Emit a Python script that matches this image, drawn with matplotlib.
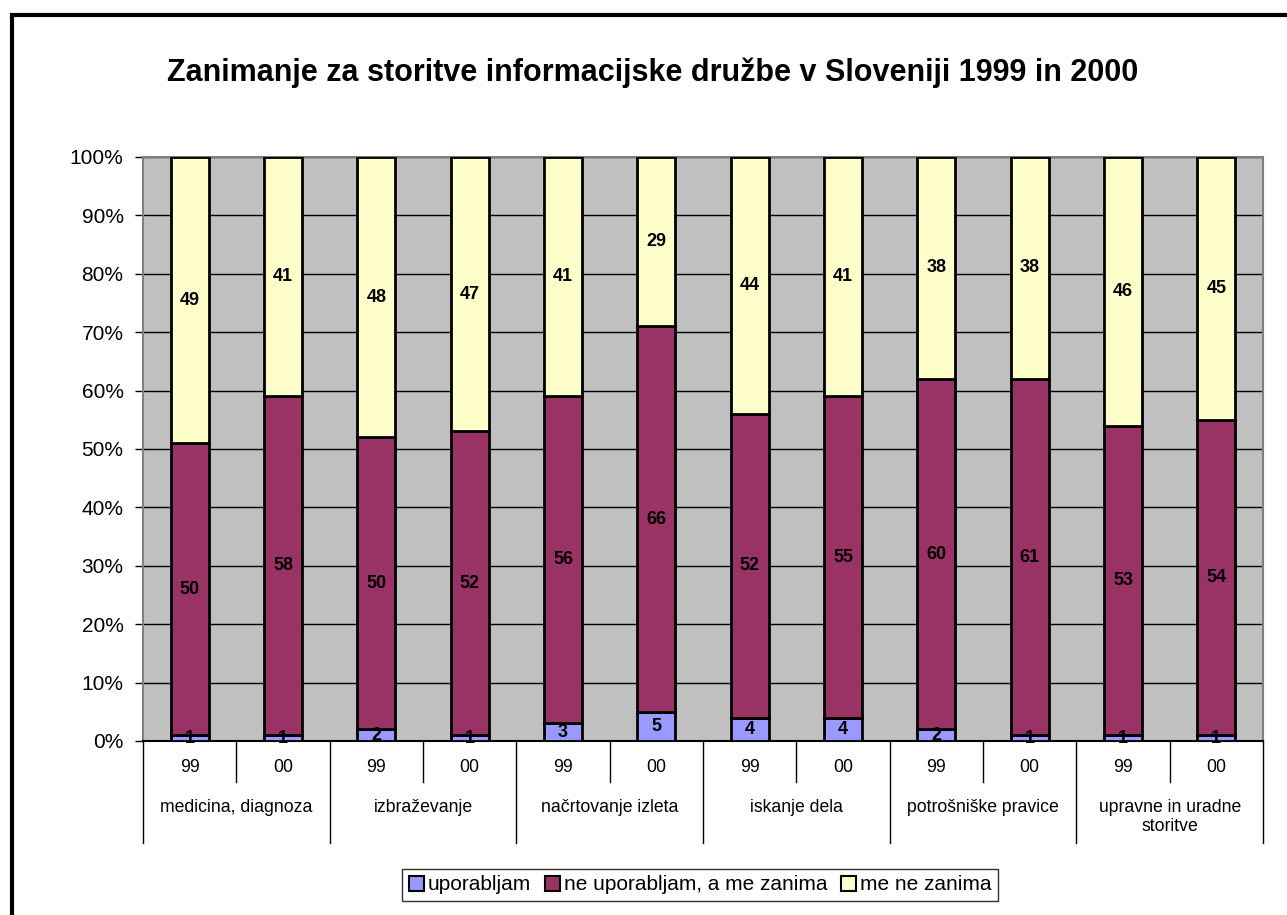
import matplotlib
matplotlib.use("Agg")
import matplotlib.pyplot as plt
from matplotlib.patches import Patch, Rectangle
import numpy as np

plt.rcParams['font.family'] = ['Liberation Sans', 'DejaVu Sans']

# podatki
skupine = ["medicina, diagnoza", "izbraževanje", "načrtovanje izleta",
           "iskanje dela", "potrošniške pravice", "upravne in uradne\nstoritve"]
leta = ["99", "00"] * 6
uporabljam = [1, 1, 2, 1, 3, 5, 4, 4, 2, 1, 1, 1]
ne_uporabljam = [50, 58, 50, 52, 56, 66, 52, 55, 60, 61, 53, 54]
ne_zanima = [49, 41, 48, 47, 41, 29, 44, 41, 38, 38, 46, 45]
serije = ["uporabljam", "ne uporabljam, a me zanima", "me ne zanima"]
barve = ["#9999FF", "#993366", "#FFFFCC"]

W, H = 1287, 915
fig = plt.figure(figsize=(W / 100, H / 100), dpi=100)
ax = fig.add_axes([143 / W, (H - 741) / H, 1120 / W, 584 / H])
ax.set_facecolor("#C0C0C0")

x = np.arange(len(leta))
dno = np.zeros(len(leta))
for vals, barva in zip([uporabljam, ne_uporabljam, ne_zanima], barve):
    vals = np.array(vals, dtype=float)
    ax.bar(x, vals, 0.41, bottom=dno, color=barva, edgecolor="black",
           linewidth=2, zorder=3)
    for xi, b, v in zip(x, dno, vals):
        ax.text(xi, b + v / 2, f"{int(v)}", ha="center", va="center",
                fontsize=13, fontweight="bold", zorder=4)
    dno += vals

ax.set_xlim(-0.5, len(leta) - 0.5)
ax.set_ylim(0, 100)
ax.set_yticks(np.arange(0, 101, 10))
ax.set_yticklabels([f"{v}%" for v in range(0, 101, 10)])
ax.tick_params(axis="y", length=6, width=1, pad=8, labelsize=15)
ax.tick_params(axis="x", length=0, labelbottom=False)
ax.yaxis.grid(True, color="black", linewidth=1, zorder=0)
ax.set_axisbelow(True)
for s in ["left", "top", "right"]:
    ax.spines[s].set_color("#808080")
    ax.spines[s].set_linewidth(1.5)
ax.spines["bottom"].set_color("black")
ax.spines["bottom"].set_linewidth(1.5)

# večnivojska kategorijska os
tr = ax.get_xaxis_transform()
for i in range(len(leta) + 1):
    yb = -0.175 if i % 2 == 0 else -0.070
    ax.plot([i - 0.5, i - 0.5], [0, yb], transform=tr, color="black",
            linewidth=1, clip_on=False)
for i, l in enumerate(leta):
    ax.text(i, -0.046, l, transform=tr, ha="center", va="center", fontsize=12.7)
for j, g in enumerate(skupine):
    ax.text(2 * j + 0.5, -0.100, g, transform=tr, ha="center", va="top",
            fontsize=12.7, linespacing=1.15)

fig.text(653 / W, 1 - 73 / H,
         "Zanimanje za storitve informacijske družbe v Sloveniji 1999 in 2000",
         ha="center", va="center", fontsize=22, fontweight="bold")

rocaji = [Patch(facecolor=c, edgecolor="black", linewidth=1.5) for c in barve]
leg = fig.legend(rocaji, serije, loc="center", bbox_to_anchor=(700 / W, 1 - 885 / H),
                 ncol=3, fontsize=15, frameon=True, fancybox=False,
                 handlelength=0.72, handleheight=0.72, handletextpad=0.2,
                 columnspacing=0.65, borderpad=0.3, borderaxespad=0)
leg.get_frame().set_edgecolor("black")
leg.get_frame().set_linewidth(1)

# zunanji okvir
fig.add_artist(Rectangle((12 / W, -0.1), 1.2, 1.1 - 15 / H, transform=fig.transFigure,
                         fill=False, edgecolor="black", linewidth=3))

fig.savefig("out.png", dpi=100)
